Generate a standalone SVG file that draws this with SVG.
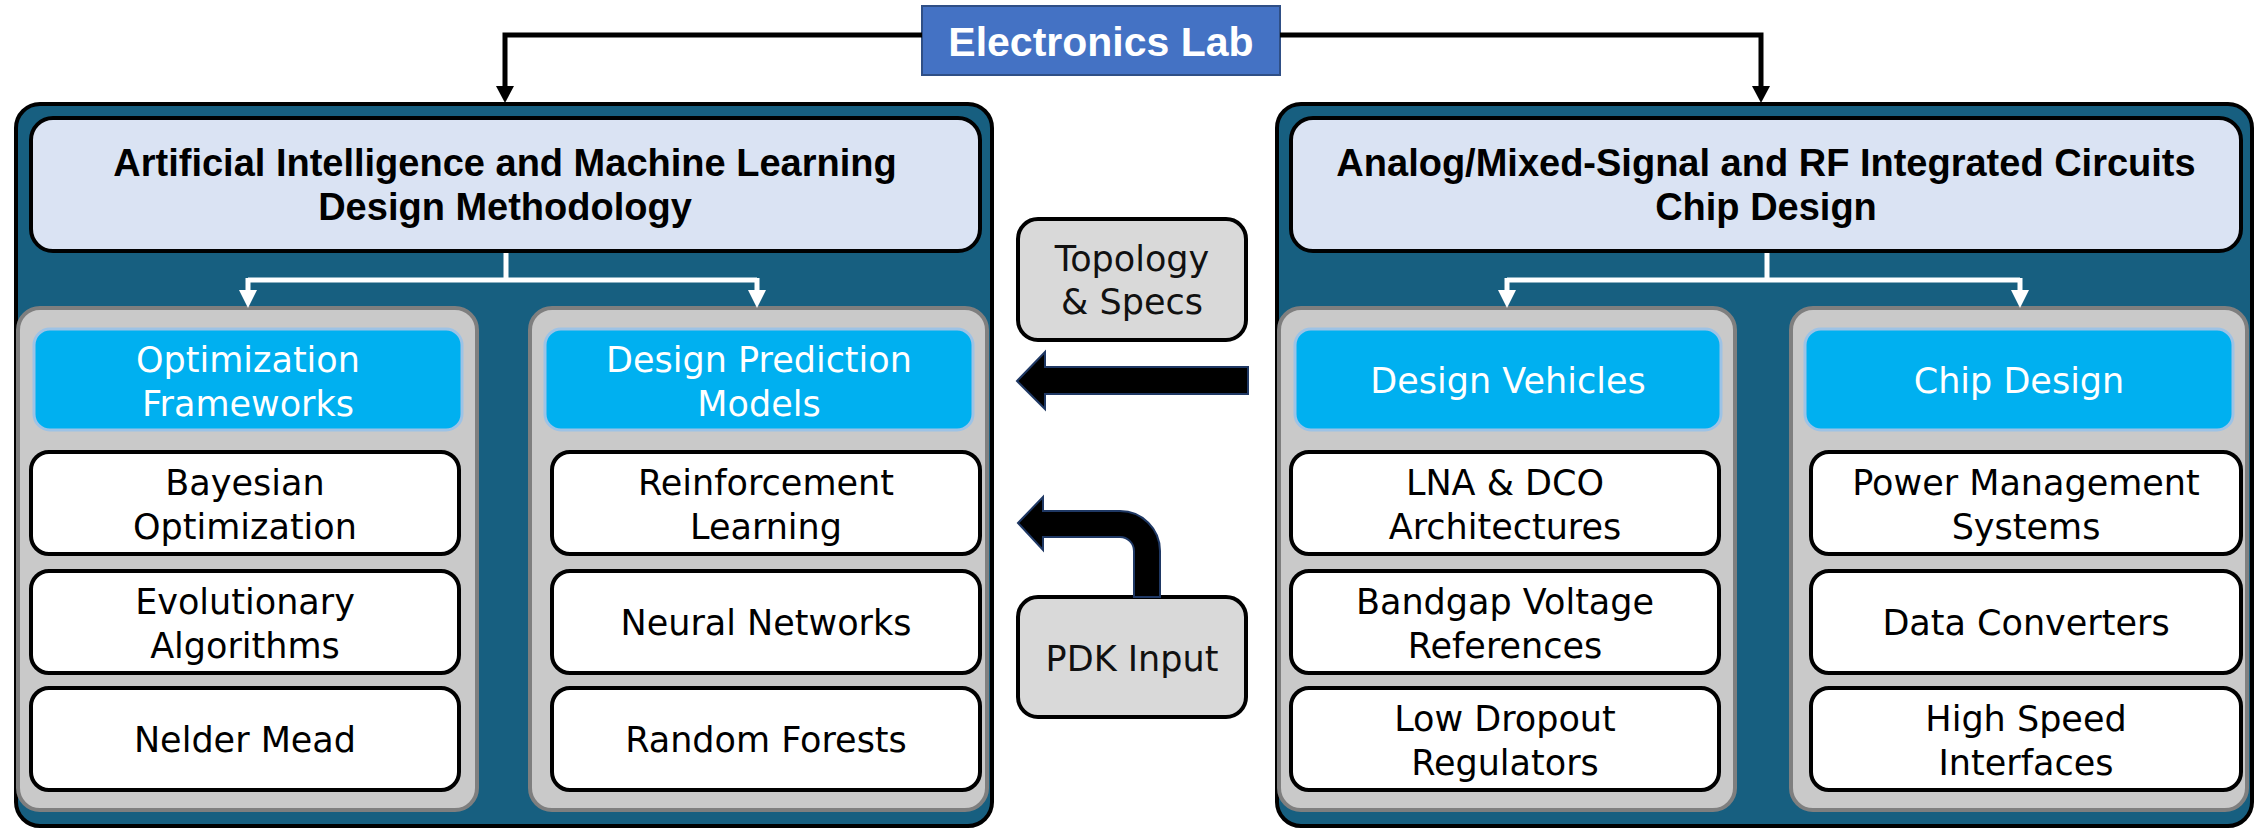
<svg xmlns="http://www.w3.org/2000/svg" width="2259" height="829" viewBox="0 0 2259 829">
  <style>
    .outer { fill: #175F80; stroke: #000; stroke-width: 4; }
    .head { fill: #DAE3F3; stroke: #000; stroke-width: 4; }
    .panel { fill: #C9C9C9; stroke: #7F7F7F; stroke-width: 4; }
    .cat { fill: #00B0F0; stroke: #9DC3E6; stroke-width: 3; }
    .item { fill: #FFFFFF; stroke: #000; stroke-width: 4; }
    .side { fill: #D9D9D9; stroke: #000; stroke-width: 4; }
    .title { font-family: "Liberation Sans", Arial, sans-serif; font-weight: bold; font-size: 38px; fill: #000; text-anchor: middle; }
    .lab { font-family: "Liberation Sans", Arial, sans-serif; font-weight: bold; font-size: 41px; fill: #FFF; text-anchor: middle; }
    .catT { font-family: "DejaVu Sans", sans-serif; font-size: 35px; fill: #FFF; text-anchor: middle; }
    .itemT { font-family: "DejaVu Sans", sans-serif; font-size: 35px; fill: #000; text-anchor: middle; }
    .sideT { font-family: "DejaVu Sans", sans-serif; font-size: 35px; fill: #111; text-anchor: middle; }
    .blk { fill: none; stroke: #000; stroke-width: 5; }
    .wht { fill: none; stroke: #FFF; stroke-width: 5; }
    .big { fill: #000; stroke: #1F3864; stroke-width: 2; stroke-linejoin: miter; }
  </style>
  <defs>
    <marker id="arrowBlack" markerUnits="userSpaceOnUse" markerWidth="17" markerHeight="18" refX="0" refY="9" orient="auto">
      <path d="M0,0 L17,9 L0,18 z" fill="#000"/>
    </marker>
    <marker id="arrowWhite" markerUnits="userSpaceOnUse" markerWidth="18" markerHeight="18" refX="0" refY="9" orient="auto">
      <path d="M0,0 L18,9 L0,18 z" fill="#FFF"/>
    </marker>
  </defs>

  <!-- Left column: AI / ML methodology -->
  <g id="ai-ml">
    <rect class="outer" x="16" y="104" width="976" height="722" rx="24"/>
    <rect class="head" x="31" y="118" width="949" height="133" rx="22"/>
    <text class="title" x="505" y="176">Artificial Intelligence and Machine Learning</text>
    <text class="title" x="505" y="220">Design Methodology</text>
  </g>

  <g id="optimization">
    <rect class="panel" x="18" y="308" width="459" height="502" rx="22"/>
    <rect class="cat" x="34" y="329" width="428" height="101" rx="16"/>
    <text class="catT" x="248" y="372">Optimization</text>
    <text class="catT" x="248" y="416">Frameworks</text>
  </g>
  <g id="bayesian">
    <rect class="item" x="31" y="452" width="428" height="102" rx="18"/>
    <text class="itemT" x="245" y="495">Bayesian</text>
    <text class="itemT" x="245" y="539">Optimization</text>
  </g>
  <g id="evolutionary">
    <rect class="item" x="31" y="571" width="428" height="102" rx="18"/>
    <text class="itemT" x="245" y="614">Evolutionary</text>
    <text class="itemT" x="245" y="658">Algorithms</text>
  </g>
  <g id="nelder-mead">
    <rect class="item" x="31" y="688" width="428" height="102" rx="18"/>
    <text class="itemT" x="245" y="752">Nelder Mead</text>
  </g>

  <g id="prediction">
    <rect class="panel" x="530" y="308" width="457" height="502" rx="22"/>
    <rect class="cat" x="545" y="329" width="428" height="101" rx="16"/>
    <text class="catT" x="759" y="372">Design Prediction</text>
    <text class="catT" x="759" y="416">Models</text>
  </g>
  <g id="reinforcement">
    <rect class="item" x="552" y="452" width="428" height="102" rx="18"/>
    <text class="itemT" x="766" y="495">Reinforcement</text>
    <text class="itemT" x="766" y="539">Learning</text>
  </g>
  <g id="neural">
    <rect class="item" x="552" y="571" width="428" height="102" rx="18"/>
    <text class="itemT" x="766" y="635">Neural Networks</text>
  </g>
  <g id="forests">
    <rect class="item" x="552" y="688" width="428" height="102" rx="18"/>
    <text class="itemT" x="766" y="752">Random Forests</text>
  </g>

  <!-- Right column: analog / RF chip design -->
  <g id="analog-rf">
    <rect class="outer" x="1277" y="104" width="975" height="722" rx="24"/>
    <rect class="head" x="1291" y="118" width="950" height="133" rx="22"/>
    <text class="title" x="1766" y="176">Analog/Mixed-Signal and RF Integrated Circuits</text>
    <text class="title" x="1766" y="220">Chip Design</text>
  </g>

  <g id="vehicles">
    <rect class="panel" x="1279" y="308" width="456" height="502" rx="22"/>
    <rect class="cat" x="1295" y="329" width="426" height="101" rx="16"/>
    <text class="catT" x="1508" y="393">Design Vehicles</text>
  </g>
  <g id="lna-dco">
    <rect class="item" x="1291" y="452" width="428" height="102" rx="18"/>
    <text class="itemT" x="1505" y="495">LNA &amp; DCO</text>
    <text class="itemT" x="1505" y="539">Architectures</text>
  </g>
  <g id="bandgap">
    <rect class="item" x="1291" y="571" width="428" height="102" rx="18"/>
    <text class="itemT" x="1505" y="614">Bandgap Voltage</text>
    <text class="itemT" x="1505" y="658">References</text>
  </g>
  <g id="ldo">
    <rect class="item" x="1291" y="688" width="428" height="102" rx="18"/>
    <text class="itemT" x="1505" y="731">Low Dropout</text>
    <text class="itemT" x="1505" y="775">Regulators</text>
  </g>

  <g id="chip">
    <rect class="panel" x="1791" y="308" width="456" height="502" rx="22"/>
    <rect class="cat" x="1805" y="329" width="428" height="101" rx="16"/>
    <text class="catT" x="2019" y="393">Chip Design</text>
  </g>
  <g id="power">
    <rect class="item" x="1811" y="452" width="430" height="102" rx="18"/>
    <text class="itemT" x="2026" y="495">Power Management</text>
    <text class="itemT" x="2026" y="539">Systems</text>
  </g>
  <g id="converters">
    <rect class="item" x="1811" y="571" width="430" height="102" rx="18"/>
    <text class="itemT" x="2026" y="635">Data Converters</text>
  </g>
  <g id="interfaces">
    <rect class="item" x="1811" y="688" width="430" height="102" rx="18"/>
    <text class="itemT" x="2026" y="731">High Speed</text>
    <text class="itemT" x="2026" y="775">Interfaces</text>
  </g>

  <!-- Middle inputs -->
  <g id="lab">
    <rect x="922" y="6" width="358" height="69" fill="#4472C4" stroke="#2F4F86" stroke-width="2"/>
    <text class="lab" x="1101" y="56">Electronics Lab</text>
  </g>
  <g id="topology">
    <rect class="side" x="1018" y="219" width="228" height="121" rx="20"/>
    <text class="sideT" x="1132" y="271">Topology</text>
    <text class="sideT" x="1132" y="314">&amp; Specs</text>
  </g>
  <g id="pdk">
    <rect class="side" x="1018" y="597" width="228" height="120" rx="20"/>
    <text class="sideT" x="1132" y="671">PDK Input</text>
  </g>

  <g id="connectors">
    <path class="blk" d="M922,35 H505 V86" marker-end="url(#arrowBlack)"/>
    <path class="blk" d="M1280,35 H1761 V86" marker-end="url(#arrowBlack)"/>
    <path class="wht" d="M506,253 V280"/>
    <path class="wht" d="M248,280 H757"/>
    <path class="wht" d="M248,278 V290" marker-end="url(#arrowWhite)"/>
    <path class="wht" d="M757,278 V290" marker-end="url(#arrowWhite)"/>
    <path class="wht" d="M1767,253 V280"/>
    <path class="wht" d="M1507,280 H2020"/>
    <path class="wht" d="M1507,278 V290" marker-end="url(#arrowWhite)"/>
    <path class="wht" d="M2020,278 V290" marker-end="url(#arrowWhite)"/>
    <path class="big" d="M1248,367 L1045,367 L1045,352 L1017,381 L1045,409 L1045,394 L1248,394 Z"/>
    <path class="big" d="M1018,523 L1043,497 L1043,511 L1120,511 A40,40 0 0 1 1160,551 L1160,597 L1134,597 L1134,551 A14,14 0 0 0 1120,537 L1043,537 L1043,550 Z"/>
  </g>
</svg>
